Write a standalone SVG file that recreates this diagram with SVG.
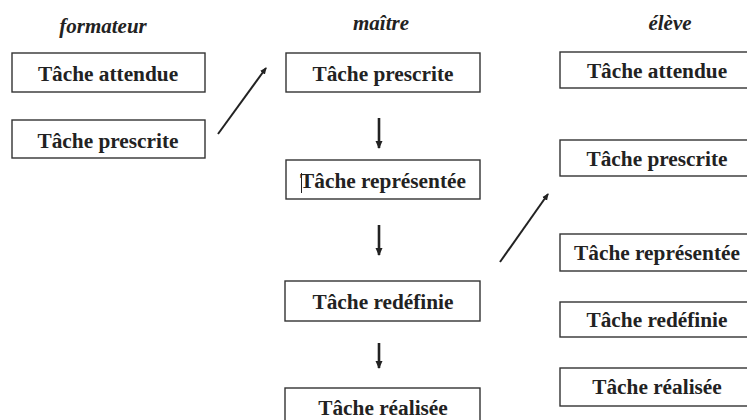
<svg xmlns="http://www.w3.org/2000/svg" width="747" height="420" viewBox="0 0 747 420">
<style>
.box{fill:#fff;stroke:#333;stroke-width:1.4}
.t{font-family:"Liberation Serif","Times New Roman",serif;font-weight:bold;font-size:21.3px;fill:#222;text-anchor:middle}
.h{font-family:"Liberation Serif","Times New Roman",serif;font-weight:bold;font-style:italic;font-size:21px;fill:#222;text-anchor:middle}
.c{stroke:#222;stroke-width:2;fill:none}
.v{stroke:#222;stroke-width:2.6;fill:none}
</style>
<defs>
<marker id="ah" markerWidth="8" markerHeight="8" refX="6" refY="4" orient="auto" markerUnits="userSpaceOnUse">
<path d="M0,1 L7,4 L0,7 Z" fill="#222"/>
</marker>
<marker id="av" markerWidth="10" markerHeight="10" refX="7" refY="4.5" orient="auto" markerUnits="userSpaceOnUse">
<path d="M0,1 L8,4.5 L0,8 Z" fill="#222"/>
</marker>
</defs>
<rect width="747" height="420" fill="#fff"/>
<text class="h" x="103" y="33">formateur</text>
<text class="h" x="381" y="30">maître</text>
<text class="h" x="670" y="30">élève</text>

<g id="f1"><rect class="box" x="12" y="53" width="193" height="39"/><text class="t" x="108" y="81">Tâche attendue</text></g>
<g id="f2"><rect class="box" x="12" y="120" width="193" height="38"/><text class="t" x="108" y="148">Tâche prescrite</text></g>

<g id="m1"><rect class="box" x="286" y="53" width="194" height="39"/><text class="t" x="383" y="81">Tâche prescrite</text></g>
<g id="m2"><rect class="box" x="286" y="160" width="194" height="39"/><text class="t" x="383" y="188">Tâche représentée</text><line x1="301.5" y1="173" x2="301.5" y2="193" stroke="#222" stroke-width="1"/></g>
<g id="m3"><rect class="box" x="285" y="281" width="195" height="40"/><text class="t" x="383" y="309">Tâche redéfinie</text></g>
<g id="m4"><rect class="box" x="285" y="388" width="195" height="40"/><text class="t" x="383" y="415">Tâche réalisée</text></g>

<g id="e1"><rect class="box" x="560" y="52" width="195" height="36"/><text class="t" x="657" y="78">Tâche attendue</text></g>
<g id="e2"><rect class="box" x="560" y="140" width="195" height="36"/><text class="t" x="657" y="166">Tâche prescrite</text></g>
<g id="e3"><rect class="box" x="560" y="234" width="195" height="37"/><text class="t" x="657" y="260">Tâche représentée</text></g>
<g id="e4"><rect class="box" x="560" y="302" width="195" height="35"/><text class="t" x="657" y="327">Tâche redéfinie</text></g>
<g id="e5"><rect class="box" x="560" y="368" width="195" height="38"/><text class="t" x="657" y="394">Tâche réalisée</text></g>

<g id="connectors">
<line class="c" x1="218" y1="134" x2="266" y2="68" marker-end="url(#ah)"/>
<line class="c" x1="500" y1="262" x2="548" y2="194" marker-end="url(#ah)"/>
<line class="v" x1="379" y1="118" x2="379" y2="148" marker-end="url(#av)"/>
<line class="v" x1="379" y1="225" x2="379" y2="255" marker-end="url(#av)"/>
<line class="v" x1="379" y1="343" x2="379" y2="368" marker-end="url(#av)"/>
</g>
</svg>
